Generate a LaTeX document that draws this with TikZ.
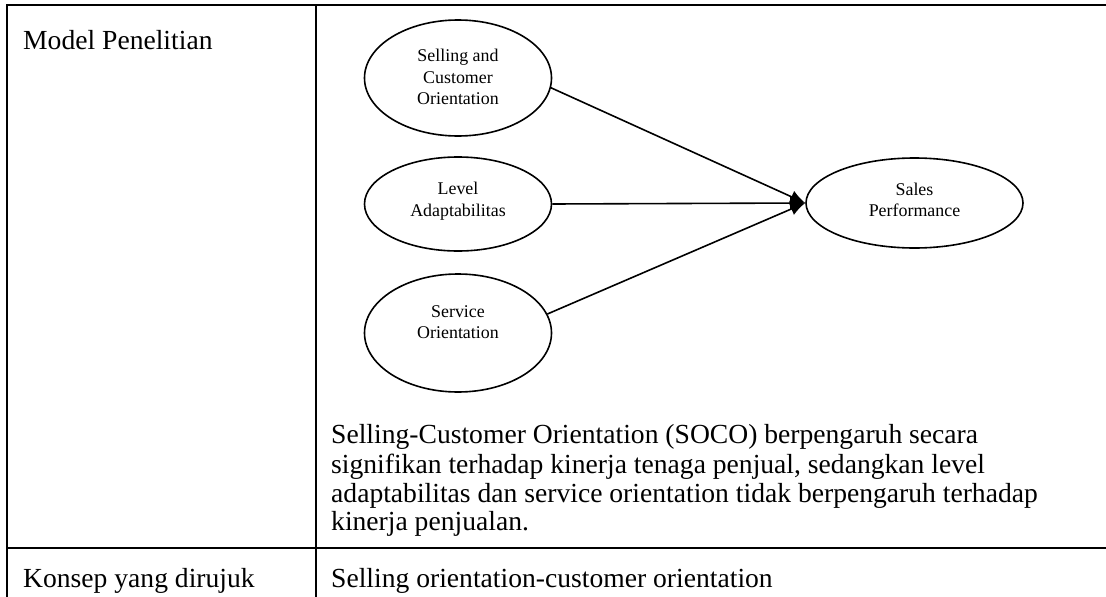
\documentclass[tikz,border=0pt]{standalone}
\usepackage{fontspec}
\setmainfont{Liberation Serif}
\usetikzlibrary{arrows.meta,shapes.geometric}
\tikzset{
  oval/.style={draw, ellipse, line width=1.6pt, inner sep=0pt},
  lbl/.style={font=\fontsize{17.9}{21.5}\selectfont, align=center, inner sep=0pt},
  cell/.style={font=\fontsize{27.6}{29.5}\selectfont, anchor=base west, inner sep=0pt},
  rule/.style={line width=2pt, line join=miter},
  link/.style={line width=1.6pt, -{Latex[length=15pt,width=13pt]}},
}
\begin{document}
\begin{tikzpicture}[x=1pt,y=1pt]
  \useasboundingbox (0,0) rectangle (1106,-597);
  \fill[white] (0,0) rectangle (1106,-597);

  % table rules
  \draw[rule] (1106,-5) -- (7,-5) -- (7,-597);
  \draw[rule] (315.5,-5) -- (315.5,-597);
  \draw[rule] (7,-548) -- (1106,-548);

  % left column
  \node[cell] (c1) at (23,-49) {Model Penelitian};
  \node[cell] (c2) at (23,-587) {Konsep yang dirujuk};

  % research model
  \node[oval, minimum width=187pt, minimum height=116pt] (e1) at (458,-78) {};
  \node[oval, minimum width=187pt, minimum height=94pt]  (e2) at (458,-204) {};
  \node[oval, minimum width=187pt, minimum height=118pt] (e3) at (458,-333) {};
  \node[oval, minimum width=217pt, minimum height=90pt]  (sp) at (914.5,-203) {};

  \node[lbl] (t1) at (458,-77) {Selling and\\Customer\\Orientation};
  \node[lbl] (t2) at (458,-201) {Level\\Adaptabilitas};
  \node[lbl] (t3) at (458,-322) {Service\\Orientation};
  \node[lbl] (t4) at (914.5,-200) {Sales\\Performance};

  \draw[link] (e1.-6) -- (sp.west);
  \draw[link] (e2.east) -- (sp.west);
  \draw[link] (e3.12) -- (sp.west);

  % findings
  \node[cell] (p1) at (331,-443) {Selling-Customer Orientation (SOCO) berpengaruh secara};
  \node[cell] (p2) at (331,-473) {signifikan terhadap kinerja tenaga penjual, sedangkan level};
  \node[cell] (p3) at (331,-502) {adaptabilitas dan service orientation tidak berpengaruh terhadap};
  \node[cell] (p4) at (331,-530) {kinerja penjualan.};

  \node[cell] (c3) at (331,-587) {Selling orientation-customer orientation};
\end{tikzpicture}
\end{document}
